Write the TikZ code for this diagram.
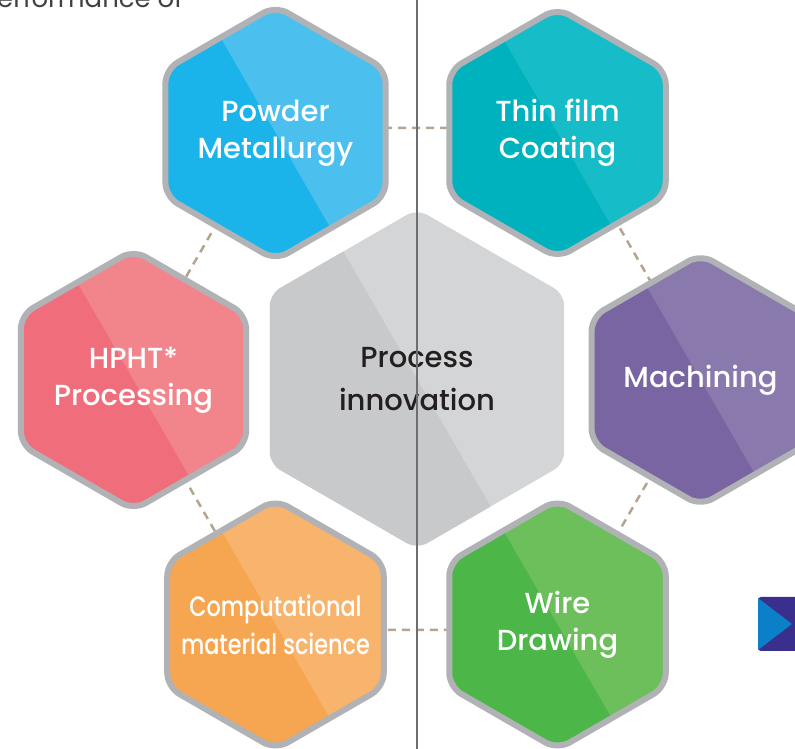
\documentclass[tikz,border=0pt]{standalone}
\usepackage{fontspec}
\usetikzlibrary{shapes.geometric,calc}
\IfFontExistsTF{Poppins Medium}{\def\myhexname{Poppins Medium}}{\def\myhexname{Poppins}}
\newfontfamily\hexfont{\myhexname}
\newfontfamily\condfont{\myhexname}[FakeStretch=0.8]
\newfontfamily\bodyfont{Poppins}
\definecolor{pmdark}{HTML}{1AB4EA}\definecolor{pmlight}{HTML}{4BC0EE}
\definecolor{tfdark}{HTML}{00B2BE}\definecolor{tflight}{HTML}{16BCC7}
\definecolor{hpdark}{HTML}{F06E7B}\definecolor{hplight}{HTML}{F2858C}
\definecolor{madark}{HTML}{7865A1}\definecolor{malight}{HTML}{8A79AC}
\definecolor{cmdark}{HTML}{F6A550}\definecolor{cmlight}{HTML}{F8B36D}
\definecolor{wddark}{HTML}{4CB748}\definecolor{wdlight}{HTML}{6DBF5C}
\definecolor{cedark}{HTML}{C8C9CB}\definecolor{celight}{HTML}{D4D5D7}
\definecolor{hexborder}{HTML}{B1B2B5}
\definecolor{dashcol}{HTML}{B3A590}
\definecolor{vlinecol}{HTML}{6D6E71}
\definecolor{centertext}{HTML}{231F20}
\definecolor{bodytext}{HTML}{414042}
\definecolor{icondark}{HTML}{3B2F8D}
\definecolor{iconlight}{HTML}{0B80C8}
\tikzset{
  hexbox/.style={regular polygon, regular polygon sides=6, shape border rotate=30,
    minimum size=250pt, inner sep=0pt, draw=hexborder, line width=6pt,
    rounded corners=14pt, text=white, align=center,
    font=\hexfont\fontsize{29}{37}\selectfont},
  hextext/.style={inner sep=0pt, text=white, align=center},
  centerbox/.style={regular polygon, regular polygon sides=6, shape border rotate=30,
    minimum size=340pt, inner sep=0pt, rounded corners=12pt, text=centertext,
    align=center, font=\hexfont\fontsize{29}{43}\selectfont},
  twotone/.style 2 args={fill=#2, path picture={
    \fill[#1] ($(path picture bounding box.center)+(120:400pt)$)
      -- ($(path picture bounding box.center)+(-60:400pt)$)
      -- ($(path picture bounding box.center)+(-60:400pt)+(210:400pt)$)
      -- ($(path picture bounding box.center)+(120:400pt)+(210:400pt)$) -- cycle;}},
  dashline/.style={draw=dashcol, line width=2.5pt, dash pattern=on 8pt off 6pt},
  vline/.style={draw=vlinecol, line width=1.5pt},
}
\begin{document}
\begin{tikzpicture}[x=1pt,y=1pt]
\useasboundingbox (0,0) rectangle (795,749);
\clip (0,0) rectangle (795,749);
% dashed ring
\coordinate (d1) at (272,621);
\coordinate (d2) at (562,621);
\coordinate (d3) at (707,370);
\coordinate (d4) at (562,119);
\coordinate (d5) at (272,119);
\coordinate (d6) at (127,370);
\draw[dashline] (d1) -- (d2) -- (d3) -- (d4) -- (d5) -- (d6) -- cycle;
% centre
\node[centerbox, twotone={cedark}{celight}] (center) at (417,370) {Process\\innovation};
% outer hexagons
\node[hexbox, twotone={pmdark}{pmlight}] (pm) at (275.5,616) {Powder\\Metallurgy};
\node[hexbox, twotone={tfdark}{tflight}] (tf) at (557.5,616) {Thin film\\Coating};
\node[hexbox, twotone={hpdark}{hplight}] (hp) at (133.5,369) {HPHT*\\Processing};
\node[hexbox, twotone={madark}{malight}] (ma) at (700.5,369) {\raisebox{-3pt}{Machining}};
\node[hexbox, twotone={cmdark}{cmlight}] (cm) at (275.5,124.5) {};
\node[hextext, font=\condfont\fontsize{28}{38}\selectfont] (cmtext) at (cm.center) {Computational\\material science};
\node[hexbox, twotone={wddark}{wdlight}] (wd) at (557.5,124.5) {Wire\\Drawing};
% vertical divider
\coordinate (vt) at (417,749);
\coordinate (vb) at (417,0);
\draw[vline] (vt) -- (vb);
% cut-off text at the top
\node[anchor=base west, inner sep=0pt, text=bodytext, font=\bodyfont\fontsize{26}{30}\selectfont] (toptext) at (-3,741) {erformance of};
% icon at the right
\fill[icondark, rounded corners=3pt] (758,98) rectangle (805,152);
\fill[iconlight] (758,151) -- (792,125) -- (758,99) -- cycle;
\end{tikzpicture}
\end{document}
